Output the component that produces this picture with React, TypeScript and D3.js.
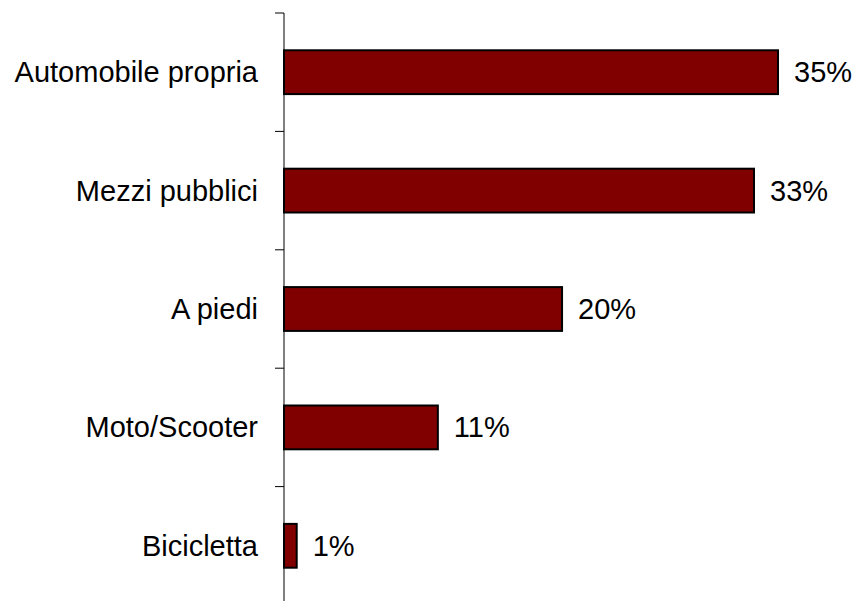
import * as d3 from "d3";

const categories = ["Automobile propria", "Mezzi pubblici", "A piedi", "Moto/Scooter", "Bicicletta"];
const values = [35.0, 33.3, 19.7, 10.9, 0.9];

const W = 856;
const H = 601;
const margin = { top: 13, left: 284 };
const axisBottom = 605;

export default function App() {
  const y = d3
    .scaleBand<string>()
    .domain(categories)
    .range([margin.top, axisBottom])
    .paddingInner(0.63)
    .paddingOuter(0.315);
  const x = d3.scaleLinear().domain([0, 35]).range([margin.left, 778]);
  const band = d3.scaleBand<string>().domain(categories).range([margin.top, axisBottom]);
  const ticks = categories.map((c) => band(c) as number).concat([axisBottom]);

  return (
    <svg width={W} height={H} style={{ position: "absolute", left: 0, top: 0, background: "#fff" }}>
      <g fontFamily="'Liberation Sans', Arial, sans-serif" fontSize={29} fill="#000">
        {categories.map((c, i) => (
          <g key={c}>
            <rect
              x={x(0)}
              y={y(c)}
              width={x(values[i]) - x(0)}
              height={y.bandwidth()}
              fill="#800000"
              stroke="#000"
              strokeWidth={2}
            />
            <text x={258} y={(band(c) as number) + band.bandwidth() / 2} textAnchor="end" dominantBaseline="central">
              {c}
            </text>
            <text x={x(values[i]) + 16} y={(band(c) as number) + band.bandwidth() / 2} dominantBaseline="central">
              {Math.round(values[i])}%
            </text>
          </g>
        ))}
      </g>
      <line x1={margin.left} x2={margin.left} y1={margin.top} y2={axisBottom} stroke="#000" strokeWidth={1} />
      {ticks.map((t, i) => (
        <line key={i} x1={margin.left - 9} x2={margin.left} y1={t} y2={t} stroke="#000" strokeWidth={1} />
      ))}
    </svg>
  );
}
